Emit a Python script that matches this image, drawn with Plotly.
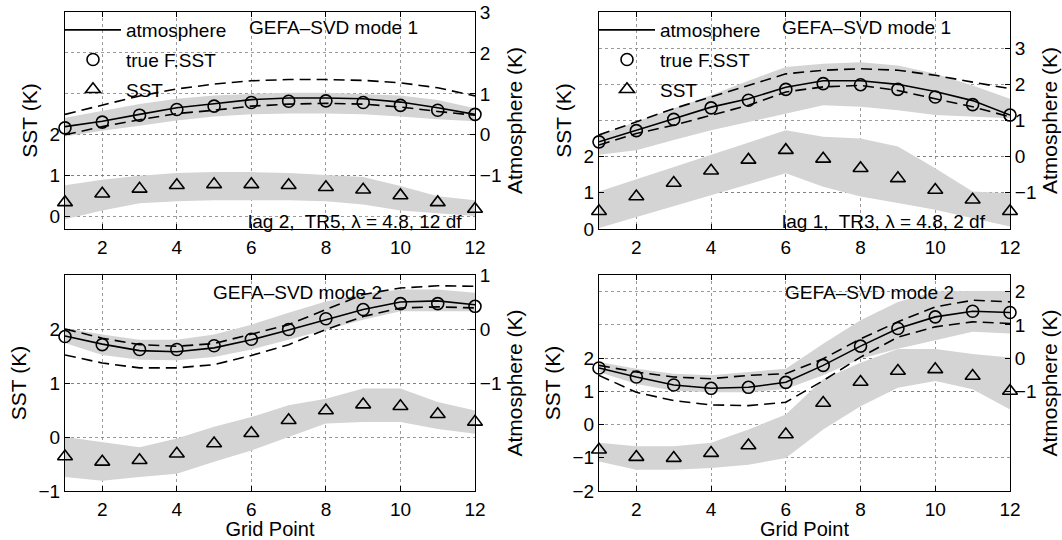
import plotly.graph_objects as go

grid_pts = list(range(1, 13))

# ---------- Panel 1 (top-left): lag 2, TR5, mode 1 ----------
p1_atm = [0.20, 0.33, 0.50, 0.66, 0.76, 0.86, 0.90, 0.90, 0.88, 0.80, 0.66, 0.50]
p1_atm_hi = [0.50, 0.72, 0.95, 1.12, 1.24, 1.32, 1.35, 1.35, 1.33, 1.27, 1.15, 0.95]
p1_atm_lo = [0.00, 0.20, 0.37, 0.52, 0.60, 0.70, 0.75, 0.77, 0.75, 0.68, 0.57, 0.48]
p1_band_top = [0.42, 0.58, 0.75, 0.88, 0.96, 1.00, 1.03, 1.03, 1.00, 0.96, 0.85, 0.65]
p1_band_bot = [-0.04, 0.10, 0.22, 0.35, 0.45, 0.50, 0.52, 0.52, 0.50, 0.45, 0.38, 0.33]
p1_true = [0.17, 0.31, 0.48, 0.62, 0.70, 0.79, 0.82, 0.83, 0.79, 0.72, 0.60, 0.50]
p1_sst = [0.35, 0.56, 0.68, 0.77, 0.79, 0.79, 0.77, 0.72, 0.66, 0.52, 0.35, 0.19]
p1_sst_top = [0.77, 0.90, 1.00, 1.07, 1.09, 1.09, 1.07, 1.02, 0.97, 0.75, 0.50, 0.40]
p1_sst_bot = [-0.06, 0.15, 0.33, 0.38, 0.40, 0.40, 0.40, 0.38, 0.30, 0.15, 0.08, 0.02]

# ---------- Panel 2 (top-right): lag 1, TR3, mode 1 ----------
p2_atm = [0.41, 0.72, 1.05, 1.37, 1.60, 1.92, 2.10, 2.10, 2.00, 1.80, 1.55, 1.15]
p2_atm_hi = [0.60, 0.96, 1.33, 1.65, 1.97, 2.29, 2.39, 2.43, 2.39, 2.25, 2.06, 1.88]
p2_atm_lo = [0.32, 0.64, 0.87, 1.15, 1.42, 1.79, 1.93, 1.97, 1.83, 1.60, 1.38, 1.10]
p2_band_top = [0.60, 0.96, 1.33, 1.70, 2.10, 2.48, 2.57, 2.61, 2.52, 2.29, 1.97, 1.60]
p2_band_bot = [0.05, 0.18, 0.46, 0.73, 0.96, 1.19, 1.42, 1.38, 1.28, 1.15, 1.10, 1.06]
p2_true = [0.41, 0.72, 1.03, 1.35, 1.56, 1.86, 2.02, 1.99, 1.86, 1.65, 1.44, 1.15]
p2_sst = [0.49, 0.90, 1.27, 1.61, 1.91, 2.18, 1.94, 1.68, 1.40, 1.08, 0.81, 0.49]
p2_sst_top = [1.04, 1.38, 1.72, 2.06, 2.39, 2.73, 2.55, 2.50, 2.28, 1.68, 1.04, 0.99]
p2_sst_bot = [0.03, 0.33, 0.63, 0.94, 1.24, 1.54, 1.17, 0.90, 0.72, 0.53, 0.30, 0.07]

# ---------- Panel 3 (bottom-left): mode 2 ----------
p3_atm = [-0.13, -0.28, -0.40, -0.42, -0.35, -0.20, -0.02, 0.17, 0.36, 0.50, 0.52, 0.45]
p3_atm_hi = [0.00, -0.17, -0.29, -0.32, -0.27, -0.10, 0.08, 0.36, 0.64, 0.76, 0.80, 0.79]
p3_atm_lo = [-0.48, -0.63, -0.72, -0.72, -0.66, -0.49, -0.29, -0.01, 0.23, 0.39, 0.41, 0.39]
p3_band_top = [0.02, -0.10, -0.20, -0.20, -0.10, 0.08, 0.30, 0.51, 0.65, 0.73, 0.73, 0.67]
p3_band_bot = [-0.26, -0.48, -0.57, -0.58, -0.52, -0.38, -0.20, -0.01, 0.17, 0.33, 0.33, 0.33]
p3_true = [-0.14, -0.29, -0.38, -0.38, -0.31, -0.19, -0.01, 0.19, 0.36, 0.47, 0.47, 0.42]
p3_sst = [-0.36, -0.46, -0.43, -0.31, -0.12, 0.07, 0.31, 0.49, 0.60, 0.57, 0.42, 0.28]
p3_sst_top = [0.00, -0.09, -0.19, -0.03, 0.19, 0.37, 0.59, 0.71, 0.90, 0.90, 0.65, 0.49]
p3_sst_bot = [-0.74, -0.81, -0.74, -0.68, -0.46, -0.25, 0.00, 0.25, 0.28, 0.28, 0.15, 0.06]

# ---------- Panel 4 (bottom-right): mode 2 ----------
p4_atm = [-0.30, -0.57, -0.81, -0.91, -0.88, -0.73, -0.22, 0.36, 0.89, 1.24, 1.41, 1.37]
p4_atm_hi = [-0.22, -0.42, -0.57, -0.62, -0.52, -0.47, -0.02, 0.58, 1.09, 1.54, 1.74, 1.69]
p4_atm_lo = [-0.52, -1.03, -1.28, -1.41, -1.43, -1.33, -0.68, 0.03, 0.63, 0.94, 1.09, 1.04]
p4_band_top = [-0.12, -0.32, -0.47, -0.52, -0.42, -0.32, 0.43, 1.14, 1.69, 2.00, 2.02, 2.02]
p4_band_bot = [-0.42, -0.78, -0.98, -1.03, -1.03, -0.93, -0.52, -0.02, 0.28, 0.53, 0.79, 0.74]
p4_true = [-0.30, -0.57, -0.81, -0.91, -0.88, -0.73, -0.22, 0.36, 0.89, 1.24, 1.41, 1.37]
p4_sst = [-0.76, -0.98, -1.01, -0.86, -0.63, -0.30, 0.65, 1.28, 1.61, 1.66, 1.46, 1.01]
p4_sst_top = [-0.55, -0.65, -0.65, -0.55, -0.15, 0.30, 1.36, 1.86, 2.27, 2.27, 2.12, 2.02]
p4_sst_bot = [-1.11, -1.36, -1.36, -1.31, -1.21, -1.01, -0.15, 0.55, 1.11, 1.31, 1.06, 0.45]

panel_titles = ["GEFA\u2013SVD mode 1", "GEFA\u2013SVD mode 1", "GEFA\u2013SVD mode 2", "GEFA\u2013SVD mode 2"]
panel_notes = ["lag 2,  TR5, \u03bb = 4.8, 12 df", "lag 1,  TR3, \u03bb = 4.8, 2 df", "", ""]
legend_labels = ["atmosphere", "true F.SST", "SST"]

left_ranges = [[-0.3, 5.0], [0, 6], [-1, 3], [-2, 4.5]]
right_ranges = [[-2.3, 3.0], [-2, 4], [-3, 1], [-4, 2.5]]
left_ticks = [[0, 1, 2], [0, 1, 2], [-1, 0, 1, 2], [-2, -1, 0, 1, 2]]
right_ticks = [[-1, 0, 1, 2, 3], [-1, 0, 1, 2, 3], [-1, 0, 1], [-1, 0, 1, 2]]

panels = [
    (p1_atm, p1_atm_hi, p1_atm_lo, p1_band_top, p1_band_bot, p1_true, p1_sst, p1_sst_top, p1_sst_bot),
    (p2_atm, p2_atm_hi, p2_atm_lo, p2_band_top, p2_band_bot, p2_true, p2_sst, p2_sst_top, p2_sst_bot),
    (p3_atm, p3_atm_hi, p3_atm_lo, p3_band_top, p3_band_bot, p3_true, p3_sst, p3_sst_top, p3_sst_bot),
    (p4_atm, p4_atm_hi, p4_atm_lo, p4_band_top, p4_band_bot, p4_true, p4_sst, p4_sst_top, p4_sst_bot),
]

W, H = 1062, 540
# pixel boxes (left, right, top, bottom)
boxes = [(65, 475, 12, 229), (599, 1010, 12, 229), (65, 475, 275, 491), (599, 1010, 275, 491)]

FONT = "Liberation Sans, Arial, Helvetica, sans-serif"
FS = 19
FT = 21
GREY = "rgb(212,212,212)"
GRIDC = "rgba(120,120,120,0.75)"
DASH = "11px,6px"

fig = go.Figure()
layout = dict(
    template="none",
    width=W, height=H, margin=dict(l=0, r=0, t=0, b=0, autoexpand=False),
    paper_bgcolor="white", plot_bgcolor="white",
    font=dict(family=FONT, size=FS, color="black"),
    showlegend=True,
)

legend_names = ["legend", "legend2", None, None]

for i, (atm, hi, lo, btop, bbot, tru, sst, stop, sbot) in enumerate(panels):
    n = i + 1
    xname = "x" if n == 1 else f"x{n}"
    yl = 2 * i + 1
    yr = 2 * i + 2
    ylname = "y" if yl == 1 else f"y{yl}"
    yrname = f"y{yr}"
    L, R, T, B = boxes[i]
    xdom = [L / W, R / W]
    ydom = [1 - B / H, 1 - T / H]
    leg = legend_names[i]

    # SST band (left axis)
    fig.add_trace(go.Scatter(x=grid_pts, y=sbot, xaxis=xname, yaxis=ylname, mode="lines",
                             line=dict(width=0, color=GREY), showlegend=False, hoverinfo="skip"))
    fig.add_trace(go.Scatter(x=grid_pts, y=stop, xaxis=xname, yaxis=ylname, mode="lines",
                             line=dict(width=0, color=GREY), fill="tonexty", fillcolor=GREY,
                             showlegend=False, hoverinfo="skip"))
    # atmosphere band (right axis)
    fig.add_trace(go.Scatter(x=grid_pts, y=bbot, xaxis=xname, yaxis=yrname, mode="lines",
                             line=dict(width=0, color=GREY), showlegend=False, hoverinfo="skip"))
    fig.add_trace(go.Scatter(x=grid_pts, y=btop, xaxis=xname, yaxis=yrname, mode="lines",
                             line=dict(width=0, color=GREY), fill="tonexty", fillcolor=GREY,
                             showlegend=False, hoverinfo="skip"))
    # dashed
    for d in (hi, lo):
        fig.add_trace(go.Scatter(x=grid_pts, y=d, xaxis=xname, yaxis=yrname, mode="lines",
                                 line=dict(width=1.6, color="black", dash=DASH),
                                 showlegend=False, hoverinfo="skip"))
    # atmosphere solid
    fig.add_trace(go.Scatter(x=grid_pts, y=atm, xaxis=xname, yaxis=yrname, mode="lines",
                             line=dict(width=1.6, color="black"), name=legend_labels[0],
                             showlegend=leg is not None, legend=leg or "legend", legendgroup=f"a{n}"))
    fig.add_trace(go.Scatter(x=grid_pts, y=tru, xaxis=xname, yaxis=yrname, mode="markers",
                             marker=dict(symbol="circle-open", size=12, color="black", line=dict(width=1.6)),
                             name=legend_labels[1], cliponaxis=False,
                             showlegend=leg is not None, legend=leg or "legend", legendgroup=f"b{n}"))
    fig.add_trace(go.Scatter(x=grid_pts, y=sst, xaxis=xname, yaxis=ylname, mode="markers",
                             marker=dict(symbol="triangle-up-open", size=13, color="black", line=dict(width=1.6)),
                             name=legend_labels[2], cliponaxis=False,
                             showlegend=leg is not None, legend=leg or "legend", legendgroup=f"c{n}"))

    xkey = "xaxis" if n == 1 else f"xaxis{n}"
    ylkey = "yaxis" if yl == 1 else f"yaxis{yl}"
    yrkey = f"yaxis{yr}"
    common = dict(showgrid=True, gridcolor=GRIDC, griddash="dot", gridwidth=1,
                  showline=True, linecolor="black", linewidth=1,
                  ticks="inside", ticklen=5, tickcolor="black", zeroline=False,
                  automargin=False, tickfont=dict(size=FS))
    layout[xkey] = dict(
        domain=xdom, anchor=ylname, range=[1, 12], tickvals=[2, 4, 6, 8, 10, 12],
        mirror="ticks", ticklabelstandoff=1,
        title=dict(text="Grid Point" if n >= 3 else "", standoff=7, font=dict(size=20)),
        **common,
    )
    layout[ylkey] = dict(
        domain=ydom, anchor=xname, range=left_ranges[i], tickvals=left_ticks[i],
        title=dict(text="SST (K)", standoff=6, font=dict(size=FT)),
        **common,
    )
    layout[yrkey] = dict(
        overlaying=ylname, side="right", anchor=xname, range=right_ranges[i], tickvals=right_ticks[i],
        title=dict(text="Atmosphere (K)", standoff=6, font=dict(size=FT)),
        **common,
    )

annotations = []
title_pos = [(0.654, 0.93), (0.652, 0.93), (0.566, 0.92), (0.657, 0.92)]
note_pos = [(0.707, 0.035), (0.694, 0.035)]
for i in range(4):
    n = i + 1
    xname = "x" if n == 1 else f"x{n}"
    ylname = "y" if 2 * i + 1 == 1 else f"y{2*i+1}"
    annotations.append(dict(text=panel_titles[i], x=title_pos[i][0], y=title_pos[i][1],
                            xref=f"{xname} domain", yref=f"{ylname} domain", showarrow=False,
                            xanchor="center", yanchor="middle", font=dict(size=FS)))
    if panel_notes[i]:
        annotations.append(dict(text=panel_notes[i], x=note_pos[i][0], y=note_pos[i][1],
                                xref=f"{xname} domain", yref=f"{ylname} domain", showarrow=False,
                                xanchor="center", yanchor="middle", font=dict(size=FS)))
layout["annotations"] = annotations

leg_common = dict(bgcolor="rgba(0,0,0,0)", borderwidth=0, font=dict(size=FS),
                  itemwidth=56, traceorder="grouped", tracegroupgap=2,
                  xanchor="left", yanchor="top", itemclick=False)
layout["legend"] = dict(x=60 / W, y=1 - 11 / H, **leg_common)
layout["legend2"] = dict(x=594 / W, y=1 - 11 / H, **leg_common)

fig.update_layout(**layout)
fig.write_html("out.html", config={"displayModeBar": False},
               post_script="document.body.style.margin='0';document.body.style.overflow='hidden';")
